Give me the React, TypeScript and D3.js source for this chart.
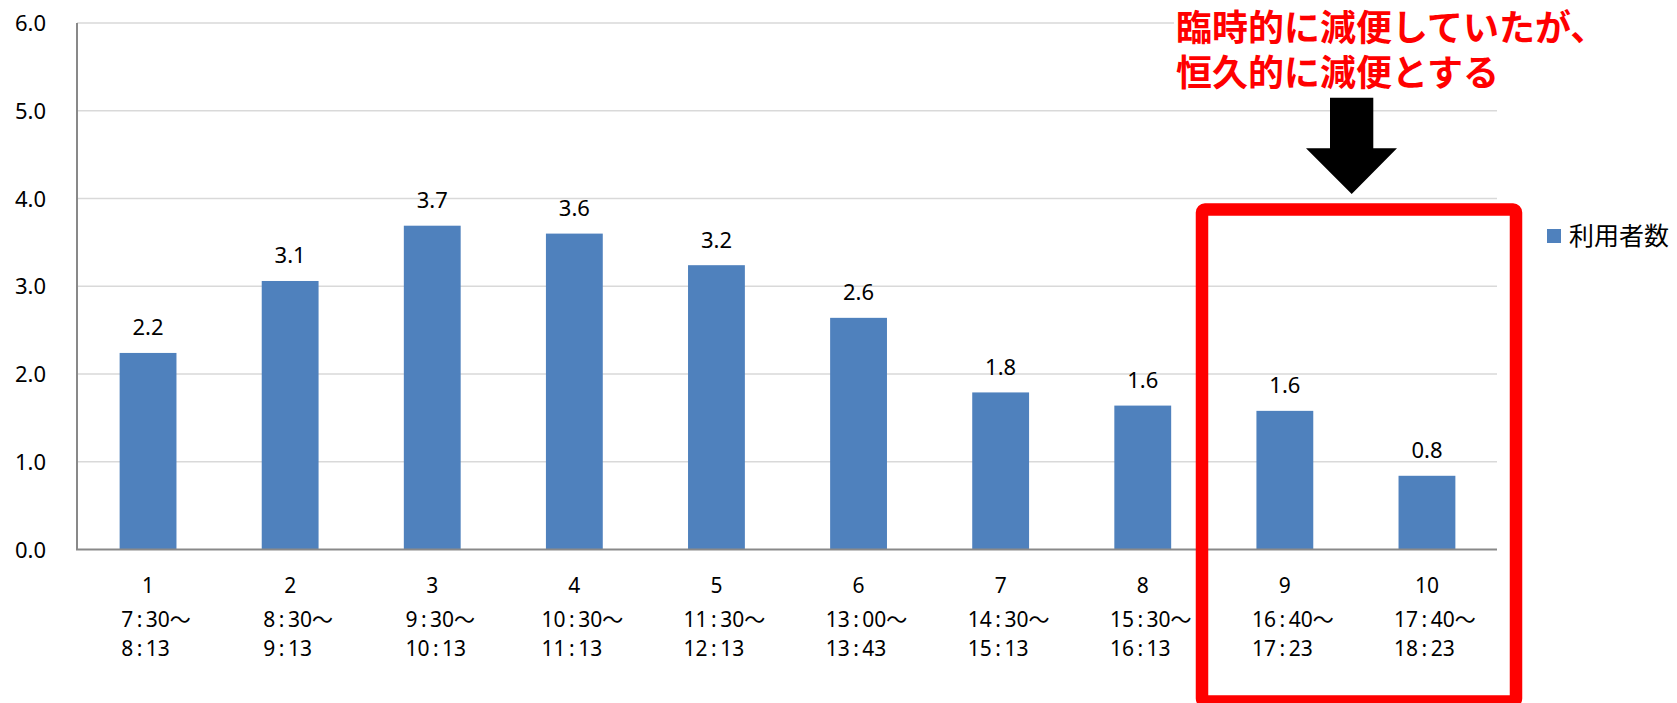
import React, { useEffect, useRef } from "react";
import * as d3 from "d3";

const categories = ["1", "2", "3", "4", "5", "6", "7", "8", "9", "10"];
const startTimes = ["7:30〜", "8:30〜", "9:30〜", "10:30〜", "11:30〜", "13:00〜", "14:30〜", "15:30〜", "16:40〜", "17:40〜"];
const endTimes = ["8:13", "9:13", "10:13", "11:13", "12:13", "13:43", "15:13", "16:13", "17:23", "18:23"];
const riders = [2.24, 3.06, 3.69, 3.6, 3.24, 2.64, 1.79, 1.64, 1.58, 0.84];
const yTicks = [0, 1, 2, 3, 4, 5, 6];
const seriesName = "利用者数";
const noteLines = ["臨時的に減便していたが、", "恒久的に減便とする"];

const W = 1677;
const H = 703;
const NUM_FONT = "'Noto Sans', 'Noto Sans CJK JP', sans-serif";
const JP_FONT = "'Noto Sans CJK JP', 'Noto Sans', sans-serif";

export default function App() {
  const ref = useRef<SVGSVGElement | null>(null);

  useEffect(() => {
    const svg = d3.select(ref.current);
    svg.selectAll("*").remove();

    const x = d3.scaleBand<string>().domain(categories).range([77, 1498]).paddingInner(0.6).paddingOuter(0.3);
    const y = d3.scaleLinear().domain([0, 6]).range([549.5, 23]);
    const fmt = d3.format(".1f");
    const cx = (c: string) => (x(c) as number) + x.bandwidth() / 2;

    // gridlines
    svg.append("g").selectAll("line").data(yTicks.filter((t) => t > 0)).join("line")
      .attr("x1", 77).attr("x2", 1497)
      .attr("y1", (d) => y(d)).attr("y2", (d) => y(d))
      .attr("stroke", "#d9d9d9").attr("stroke-width", 1.5);

    // y tick labels
    svg.append("g").selectAll("text").data(yTicks).join("text")
      .attr("x", 46).attr("y", (d) => y(d) + 8)
      .attr("text-anchor", "end")
      .attr("font-family", NUM_FONT).attr("font-size", 22).attr("fill", "#000")
      .text((d) => fmt(d));

    // bars
    svg.append("g").selectAll("rect").data(riders).join("rect")
      .attr("x", (_d, i) => x(categories[i]) as number)
      .attr("width", x.bandwidth())
      .attr("y", (d) => y(d))
      .attr("height", (d) => y(0) - y(d))
      .attr("fill", "#4f81bd");

    // data labels
    svg.append("g").selectAll("text").data(riders).join("text")
      .attr("x", (_d, i) => cx(categories[i]))
      .attr("y", (d) => y(d) - 17.5)
      .attr("text-anchor", "middle")
      .attr("font-family", NUM_FONT).attr("font-size", 22).attr("fill", "#000")
      .text((d) => fmt(d));

    // axes
    svg.append("line").attr("x1", 77).attr("x2", 77).attr("y1", y(6)).attr("y2", y(0))
      .attr("stroke", "#898989").attr("stroke-width", 2);
    svg.append("line").attr("x1", 76).attr("x2", 1497).attr("y1", y(0)).attr("y2", y(0))
      .attr("stroke", "#898989").attr("stroke-width", 2);

    // category labels
    const cat = svg.append("g");
    categories.forEach((c, i) => {
      const xc = cx(c);
      cat.append("text").attr("x", xc).attr("y", 593).attr("text-anchor", "middle")
        .attr("font-family", NUM_FONT).attr("font-size", 21).attr("fill", "#000").text(c);
      const t1 = cat.append("text").attr("x", xc + 8).attr("y", 627).attr("text-anchor", "middle")
        .attr("font-family", NUM_FONT).attr("font-size", 21).attr("fill", "#000")
        .text(startTimes[i].replace(":", "\u2009:\u2009"));
      const bb = (t1.node() as SVGTextElement).getBBox();
      cat.append("text").attr("x", bb.x).attr("y", 656).attr("text-anchor", "start")
        .attr("font-family", NUM_FONT).attr("font-size", 21).attr("fill", "#000")
        .text(endTimes[i].replace(":", "\u2009:\u2009"));
    });

    // legend
    svg.append("rect").attr("x", 1547).attr("y", 229).attr("width", 14).attr("height", 14).attr("fill", "#4f81bd");
    svg.append("text").attr("x", 1569).attr("y", 245).attr("font-family", JP_FONT).attr("font-size", 25)
      .attr("fill", "#000").text(seriesName);

    // annotation: red box
    svg.append("rect").attr("x", 1202).attr("y", 209.5).attr("width", 314).attr("height", 492)
      .attr("rx", 3).attr("fill", "none").attr("stroke", "#ff0000").attr("stroke-width", 12.5);

    // annotation: arrow
    const arrow = d3.path();
    arrow.moveTo(1330, 97.7);
    arrow.lineTo(1373.3, 97.7);
    arrow.lineTo(1373.3, 148.3);
    arrow.lineTo(1397, 148.3);
    arrow.lineTo(1351.7, 194);
    arrow.lineTo(1306, 148.3);
    arrow.lineTo(1330, 148.3);
    arrow.closePath();
    svg.append("path").attr("d", arrow.toString()).attr("fill", "#000");

    // annotation: note text with white box
    svg.append("rect").attr("x", 1174).attr("y", 2).attr("width", 430).attr("height", 92).attr("fill", "#fff");
    svg.append("g").selectAll("text").data(noteLines).join("text")
      .attr("x", 1176).attr("y", (_d, i) => 40.5 + i * 45)
      .attr("font-family", "'DejaVu Sans', 'Noto Sans CJK JP', sans-serif")
      .attr("font-weight", 700).attr("font-size", 36)
      .attr("fill", "#ff0000").text((d) => d);
  }, []);

  return (
    <svg
      ref={ref}
      width={W}
      height={H}
      viewBox={`0 0 ${W} ${H}`}
      style={{ position: "absolute", left: 0, top: 0, background: "#fff", display: "block" }}
    />
  );
}
